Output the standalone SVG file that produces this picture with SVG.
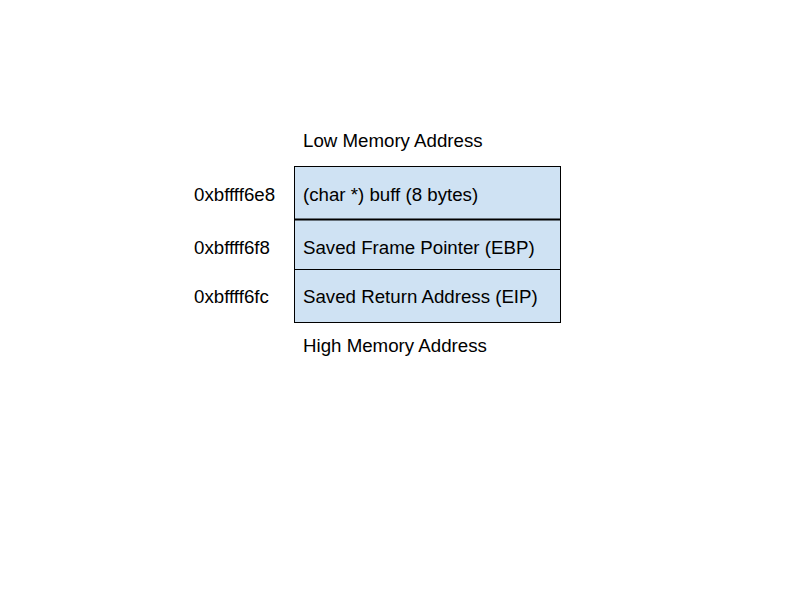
<svg xmlns="http://www.w3.org/2000/svg" width="800" height="600" viewBox="0 0 800 600">
<style>
text{font-family:"Liberation Sans",Arial,sans-serif;font-size:18.7px;fill:#000}
.cell{fill:#cfe2f3;stroke:#000;stroke-width:1}
</style>
<rect width="800" height="600" fill="#fff"/>
<text x="303" y="147">Low Memory Address</text>
<g id="buff">
<rect class="cell" x="294.5" y="166.5" width="266" height="53"/>
<text x="303" y="201">(char *) buff (8 bytes)</text>
<text x="194" y="201">0xbffff6e8</text>
</g>
<g id="ebp">
<rect class="cell" x="294.5" y="219.5" width="266" height="50"/>
<text x="303" y="254">Saved Frame Pointer (EBP)</text>
<text x="194" y="254">0xbffff6f8</text>
</g>
<g id="eip">
<rect class="cell" x="294.5" y="269.5" width="266" height="53"/>
<text x="303" y="303">Saved Return Address (EIP)</text>
<text x="194" y="303">0xbffff6fc</text>
</g>
<line x1="294.5" y1="219.5" x2="560.5" y2="219.5" stroke="#000" stroke-width="2"/>
<g id="connectors"/>
<text x="303" y="352">High Memory Address</text>
</svg>
